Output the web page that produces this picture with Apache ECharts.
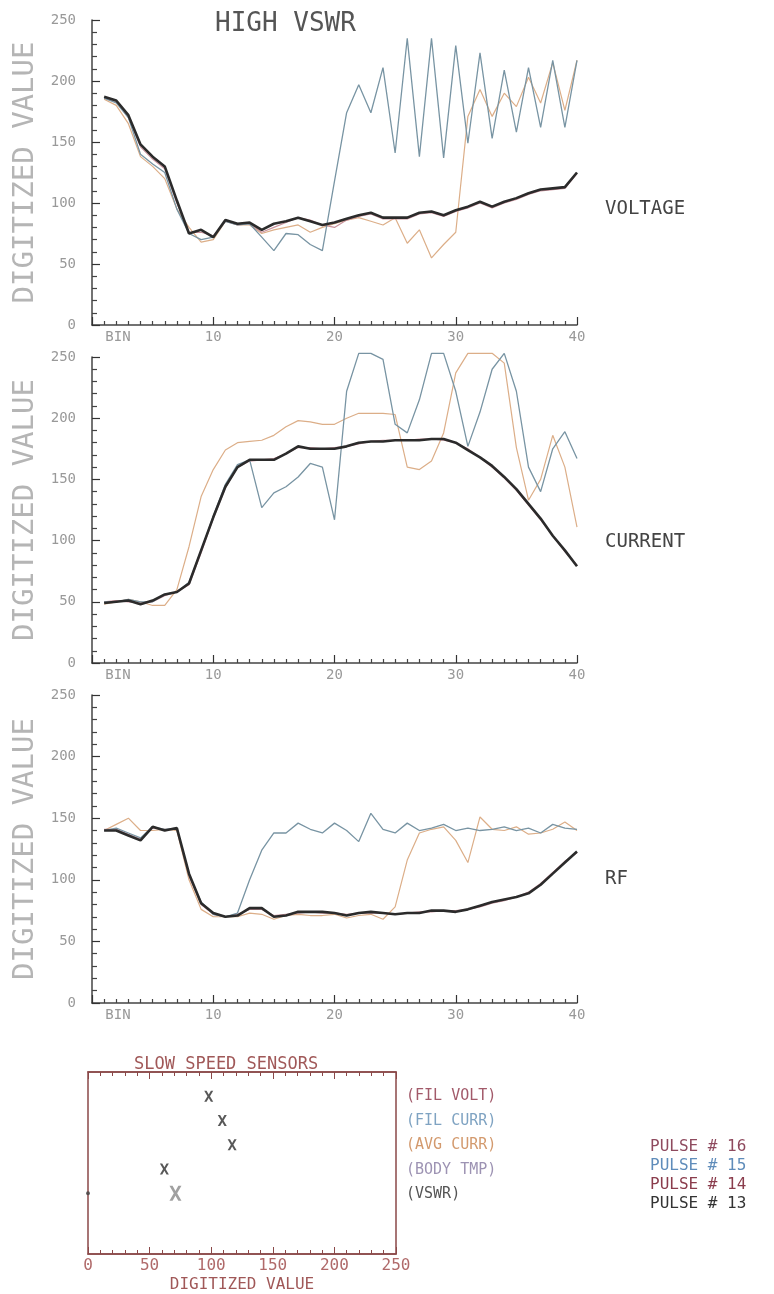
<!DOCTYPE html>
<html>
<head>
<meta charset="utf-8">
<title>HIGH VSWR</title>
<script src="https://cdn.jsdelivr.net/npm/echarts@6/dist/echarts.min.js"></script>
<style>
html, body { margin: 0; padding: 0; background: #fff; }
#chart { width: 774px; height: 1294px; }
</style>
</head>
<body>
<div id="chart"></div>
<script>
// bins 1..40 on every panel
var bins = [1, 2, 3, 4, 5, 6, 7, 8, 9, 10, 11, 12, 13, 14, 15, 16, 17, 18, 19, 20,
            21, 22, 23, 24, 25, 26, 27, 28, 29, 30, 31, 32, 33, 34, 35, 36, 37, 38, 39, 40];

// VOLTAGE panel
var volt13 = [187, 184, 172, 148, 138, 130, 102, 75, 78, 72, 86, 83, 84, 78, 83, 85, 88, 85, 82, 84,
              87, 90, 92, 88, 88, 88, 92, 93, 90, 94, 97, 101, 97, 101, 104, 108, 111, 112, 113, 125];
var volt14 = [185, 180, 165, 138, 130, 120, 95, 80, 68, 70, 85, 82, 82, 75, 78, 80, 82, 76, 80, 83,
              86, 88, 85, 82, 88, 67, 78, 55, 66, 76, 171, 193, 171, 190, 179, 203, 182, 215, 176, 217];
var volt15 = [186, 182, 170, 140, 132, 125, 95, 75, 70, 72, 85, 82, 83, 72, 61, 75, 74, 66, 61, 118,
              174, 197, 174, 211, 141, 235, 138, 235, 137, 229, 149, 223, 153, 209, 158, 211, 162, 217, 162, 217];
var volt16 = [186, 183, 170, 146, 136, 128, 100, 76, 76, 73, 85, 82, 83, 76, 80, 84, 88, 86, 82, 80,
              86, 89, 91, 87, 87, 87, 91, 92, 89, 93, 96, 100, 96, 100, 103, 107, 110, 111, 112, 124];

// CURRENT panel
var curr13 = [49, 50, 51, 48, 51, 56, 58, 65, 92, 119, 144, 160, 166, 166, 166, 171, 177, 175, 175, 175,
              177, 180, 181, 181, 182, 182, 182, 183, 183, 180, 174, 168, 161, 152, 142, 130, 118, 104, 92, 79];
var curr14 = [48, 50, 52, 50, 47, 47, 60, 95, 136, 158, 174, 180, 181, 182, 186, 193, 198, 197, 195, 195,
              200, 204, 204, 204, 203, 160, 158, 165, 188, 237, 253, 253, 253, 245, 176, 133, 150, 186, 160, 111];
var curr15 = [50, 50, 52, 50, 50, 56, 58, 66, 92, 120, 146, 162, 166, 127, 139, 144, 152, 163, 160, 117,
              222, 253, 253, 248, 195, 188, 215, 253, 253, 222, 177, 205, 240, 253, 222, 160, 140, 175, 189, 167];
var curr16 = [50, 51, 50, 49, 50, 55, 58, 64, 90, 118, 143, 160, 165, 166, 167, 171, 176, 176, 175, 176,
              177, 179, 181, 182, 182, 182, 183, 183, 182, 180, 175, 168, 160, 151, 141, 129, 117, 104, 91, 80];

// RF panel
var rf13 = [140, 140, 136, 132, 143, 140, 142, 105, 81, 73, 70, 71, 77, 77, 70, 71, 74, 74, 74, 73,
            71, 73, 74, 73, 72, 73, 73, 75, 75, 74, 76, 79, 82, 84, 86, 89, 96, 105, 114, 123];
var rf14 = [140, 145, 150, 140, 140, 141, 140, 100, 76, 70, 70, 70, 73, 72, 68, 71, 72, 71, 71, 72,
            69, 71, 72, 68, 78, 116, 138, 141, 143, 132, 114, 151, 141, 140, 143, 137, 138, 141, 147, 140];
var rf15 = [140, 142, 138, 134, 143, 141, 142, 104, 82, 72, 70, 73, 100, 124, 138, 138, 146, 141, 138, 146,
            140, 131, 154, 141, 138, 146, 140, 142, 145, 140, 142, 140, 141, 143, 140, 142, 138, 145, 142, 141];
var rf16 = [141, 141, 137, 133, 142, 141, 141, 103, 80, 72, 70, 72, 76, 76, 71, 72, 73, 74, 73, 73,
            72, 73, 73, 73, 72, 73, 74, 74, 75, 75, 76, 78, 81, 83, 86, 90, 97, 106, 115, 122];

// slow speed sensors
var sensorNames = ['(FIL VOLT)', '(FIL CURR)', '(AVG CURR)', '(BODY TMP)', '(VSWR)'];
var sensorRow = [1, 2, 3, 4, 5];
var sensorValue = [98, 109, 117, 62, 71];
var sensorColors = ['#a25a6a', '#7fa3c2', '#d39a6e', '#9d93b3', '#555555'];

var pulseNames = ['PULSE # 16', 'PULSE # 15', 'PULSE # 14', 'PULSE # 13'];
var pulseColors = ['#8e4a5e', '#5f8cba', '#8a3c4c', '#333333'];

var panelLabels = ['VOLTAGE', 'CURRENT', 'RF'];

var mono = '"DejaVu Sans Mono", "Liberation Mono", monospace';
var c13 = '#2b2b2b', c14 = '#dcae88', c15 = '#7894a3', c16 = '#c9929c';

var chart = echarts.init(document.getElementById('chart'));

var panelTop = [20, 357, 695];
var panelH = [305, 306, 308];

var grids = [], xAxes = [], yAxes = [], series = [];
var panels = [
    [volt13, volt14, volt15, volt16],
    [curr13, curr14, curr15, curr16],
    [rf13, rf14, rf15, rf16]
];

function pts(vals) {
    return bins.map(function(b, i) { return [b, vals[i]]; });
}

function line(idx, vals, color, width, z) {
    return {
        type: 'line',
        xAxisIndex: idx,
        yAxisIndex: idx,
        data: pts(vals),
        symbol: 'none',
        clip: false,
        lineStyle: { color: color, width: width },
        z: z,
        animation: false,
        silent: true
    };
}

for (var i = 0; i < 3; i++) {
    grids.push({ left: 92, top: panelTop[i], width: 485, height: panelH[i] });
    xAxes.push({
        type: 'value', gridIndex: i, min: 0, max: 40, interval: 10,
        axisLine: { show: true, onZero: false, lineStyle: { color: '#444', width: 1.5 } },
        axisTick: { show: true, inside: true, length: 8, lineStyle: { color: '#333', width: 1.2 } },
        minorTick: { show: true, splitNumber: 10, length: 4, lineStyle: { color: '#444', width: 1.2 } },
        splitLine: { show: false },
        axisLabel: {
            color: '#999', fontFamily: mono, fontSize: 14, margin: 5,
            formatter: function(v) { return v === 0 ? '{b|BIN}' : String(v); },
            rich: { b: { color: '#999', fontFamily: mono, fontSize: 14, padding: [0, 0, 0, 52] } }
        }
    });
    yAxes.push({
        type: 'value', gridIndex: i, min: 0, max: 250, interval: 50,
        name: 'DIGITIZED VALUE', nameLocation: 'middle', nameGap: 52,
        nameTextStyle: { color: '#b5b5b5', fontSize: 29, fontFamily: mono },
        axisLine: { show: true, lineStyle: { color: '#444', width: 1.5 } },
        axisTick: { show: true, inside: true, length: 8, lineStyle: { color: '#333', width: 1.2 } },
        minorTick: { show: true, splitNumber: 5, length: 5, lineStyle: { color: '#444', width: 1.2 } },
        splitLine: { show: false },
        axisLabel: { color: '#999', fontFamily: mono, fontSize: 14, margin: 16 }
    });
    var p = panels[i];
    series.push(line(i, p[1], c14, 1.2, 2));
    series.push(line(i, p[3], c16, 1.2, 3));
    series.push(line(i, p[2], c15, 1.3, 4));
    series.push(line(i, p[0], c13, 2.6, 5));
}

// slow speed sensors box
var maroon = '#8a4848';
grids.push({ left: 88, top: 1072, width: 308, height: 186, show: true, borderColor: maroon, borderWidth: 1.5 });
var sensorAxis = function(pos, labels) {
    return {
        type: 'value', gridIndex: 3, position: pos, min: 0, max: 250, interval: 50,
        axisLine: { show: true, onZero: false, lineStyle: { color: maroon, width: 1.5 } },
        axisTick: { inside: true, length: 7, lineStyle: { color: maroon } },
        minorTick: { show: true, splitNumber: 5, length: 4, lineStyle: { color: maroon } },
        splitLine: { show: false },
        axisLabel: { show: labels, color: '#b06a6a', fontFamily: mono, fontSize: 16, margin: 4 },
        name: labels ? 'DIGITIZED VALUE' : '', nameLocation: 'middle', nameGap: 23,
        nameTextStyle: { color: '#a05858', fontFamily: mono, fontSize: 16 }
    };
};
xAxes.push(sensorAxis('bottom', true));
xAxes.push(sensorAxis('top', false));
yAxes.push({ type: 'value', gridIndex: 3, min: 0, max: 7.5, inverse: true, show: false });

var xPath = 'path://M0,0 L2.6,0 L5,3.4 L7.4,0 L10,0 L6.4,5 L10,10 L7.4,10 L5,6.6 L2.6,10 L0,10 L3.6,5 Z';
series.push({
    type: 'scatter', xAxisIndex: 3, yAxisIndex: 3,
    data: sensorValue.map(function(v, k) {
        return {
            value: [v, sensorRow[k]],
            symbolSize: k === 4 ? [12, 15] : [9, 11],
            itemStyle: { color: k === 4 ? '#888' : '#2e2e2e' }
        };
    }),
    symbol: xPath, animation: false, silent: true
});
series.push({
    type: 'scatter', xAxisIndex: 3, yAxisIndex: 3,
    data: [[0, 5]], symbol: 'circle', symbolSize: 4,
    itemStyle: { color: '#444' }, animation: false, silent: true
});

var graphics = [
    { type: 'text', left: 215, top: 11, style: { text: 'HIGH VSWR', font: '26px ' + mono, fill: '#555' } }
];
var labelY = [200, 533, 870];
panelLabels.forEach(function(t, k) {
    graphics.push({ type: 'text', left: 605, top: labelY[k], style: { text: t, font: '19px ' + mono, fill: '#444' } });
});
graphics.push({ type: 'text', left: 134, top: 1056, style: { text: 'SLOW SPEED SENSORS', font: '17px ' + mono, fill: '#a05858' } });
sensorNames.forEach(function(t, k) {
    graphics.push({ type: 'text', left: 406, top: 1089 + k * 24.5, style: { text: t, font: '15px ' + mono, fill: sensorColors[k] } });
});
pulseNames.forEach(function(t, k) {
    graphics.push({ type: 'text', left: 650, top: 1139 + k * 19, style: { text: t, font: '16px ' + mono, fill: pulseColors[k] } });
});

var option = {
    backgroundColor: '#fff',
    animation: false,
    grid: grids,
    xAxis: xAxes,
    yAxis: yAxes,
    series: series,
    graphic: graphics
};
chart.setOption(option);
</script>
</body>
</html>
